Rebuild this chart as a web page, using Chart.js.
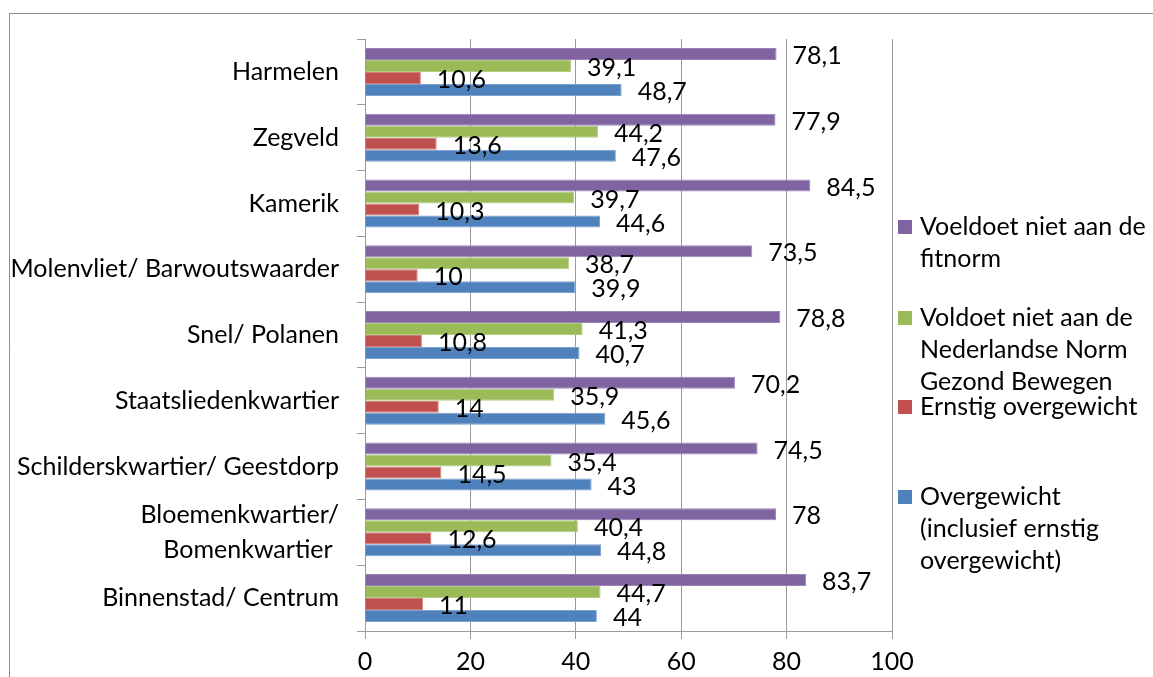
<!DOCTYPE html>
<html>
<head>
<meta charset="utf-8">
<script src="https://cdn.jsdelivr.net/npm/chart.js@4.4.0/dist/chart.umd.min.js"></script>
<style>
html, body { margin: 0; padding: 0; background: #fff; }
</style>
</head>
<body>
<canvas id="myChart" width="1153" height="677"></canvas>
<script>
// data
var wijken = ['Harmelen', 'Zegveld', 'Kamerik', 'Molenvliet/ Barwoutswaarder', 'Snel/ Polanen',
  'Staatsliedenkwartier', 'Schilderskwartier/ Geestdorp', ['Bloemenkwartier/', 'Bomenkwartier '], 'Binnenstad/ Centrum'];
var fitnorm = [78.1, 77.9, 84.5, 73.5, 78.8, 70.2, 74.5, 78, 83.7];
var nngb = [39.1, 44.2, 39.7, 38.7, 41.3, 35.9, 35.4, 40.4, 44.7];
var ernstig = [10.6, 13.6, 10.3, 10, 10.8, 14, 14.5, 12.6, 11];
var overgewicht = [48.7, 47.6, 44.6, 39.9, 40.7, 45.6, 43, 44.8, 44];
var xTicks = [0, 20, 40, 60, 80, 100];
var legendNames = [
  ['Voeldoet niet aan de', 'fitnorm'],
  ['Voldoet niet aan de', 'Nederlandse Norm', 'Gezond Bewegen'],
  ['Ernstig overgewicht'],
  ['Overgewicht', '(inclusief ernstig', 'overgewicht)']
];

var FONT = 'Lato';
var FSIZE = 25;
var colors = ['#8064A2', '#9BBB59', '#C0504D', '#4F81BD'];
var edges = ['#9A84B8', '#B2CC80', '#D07C7A', '#7EA1CE'];

// frame round the chart (only left and top are visible)
var frame = {
  id: 'frame',
  beforeDraw: function(chart) {
    var ctx = chart.ctx;
    ctx.save();
    ctx.strokeStyle = '#8c8c8c';
    ctx.lineWidth = 1;
    ctx.beginPath();
    ctx.moveTo(9.5, 677);
    ctx.lineTo(9.5, 13.5);
    ctx.lineTo(1153, 13.5);
    ctx.stroke();
    ctx.restore();
  }
};

// value labels next to the bars
var barLabels = {
  id: 'barLabels',
  afterDatasetsDraw: function(chart) {
    var ctx = chart.ctx;
    ctx.save();
    ctx.font = FSIZE + 'px ' + FONT;
    ctx.fillStyle = '#000';
    ctx.textAlign = 'left';
    ctx.textBaseline = 'middle';
    chart.data.datasets.forEach(function(ds, i) {
      chart.getDatasetMeta(i).data.forEach(function(bar, j) {
        ctx.fillText(String(ds.data[j]).replace('.', ','), bar.x + 16, bar.y + 2);
      });
    });
    ctx.restore();
  }
};

// legend on the right
var sideLegend = {
  id: 'sideLegend',
  afterDraw: function(chart) {
    var ctx = chart.ctx;
    var tops = [227, 318, 407, 497];
    ctx.save();
    ctx.font = FSIZE + 'px ' + FONT;
    ctx.textAlign = 'left';
    ctx.textBaseline = 'middle';
    legendNames.forEach(function(lines, i) {
      ctx.fillStyle = colors[i];
      ctx.fillRect(898, tops[i] - 7, 14, 14);
      ctx.fillStyle = '#000';
      lines.forEach(function(t, k) {
        ctx.fillText(t, 920, tops[i] + k * 32);
      });
    });
    ctx.restore();
  }
};

var ctx = document.getElementById('myChart').getContext('2d');
var chart = new Chart(ctx, {
  type: 'bar',
  data: {
    labels: wijken,
    datasets: [
      { label: legendNames[0].join(' '), data: fitnorm },
      { label: legendNames[1].join(' '), data: nngb },
      { label: legendNames[2].join(' '), data: ernstig },
      { label: legendNames[3].join(' '), data: overgewicht }
    ].map(function(d, i) {
      d.backgroundColor = colors[i];
      d.borderColor = edges[i];
      d.borderWidth = 1;
      d.barPercentage = 1;
      d.categoryPercentage = 0.73;
      return d;
    })
  },
  options: {
    indexAxis: 'y',
    responsive: false,
    animation: false,
    layout: { padding: { left: 0, right: 261, top: 39, bottom: 0 } },
    plugins: {
      legend: { display: false },
      tooltip: { enabled: false }
    },
    scales: {
      x: {
        min: 0,
        max: 100,
        afterBuildTicks: function(s) { s.ticks = xTicks.map(function(v) { return { value: v }; }); },
        ticks: { color: '#000', font: { family: FONT, size: FSIZE }, padding: 8, maxRotation: 0 },
        grid: { color: '#9a9a9a', tickLength: 8 },
        border: { color: '#9a9a9a' },
        afterFit: function(s) { s.height = 46; }
      },
      y: {
        ticks: { color: '#000', font: { family: FONT, size: FSIZE, lineHeight: 1.4 }, padding: 18, autoSkip: false },
        grid: { offset: true, drawOnChartArea: false, tickLength: 8, color: '#9a9a9a' },
        border: { color: '#9a9a9a' },
        afterFit: function(s) { s.width = 365; }
      }
    }
  },
  plugins: [frame, barLabels, sideLegend]
});
</script>
</body>
</html>
